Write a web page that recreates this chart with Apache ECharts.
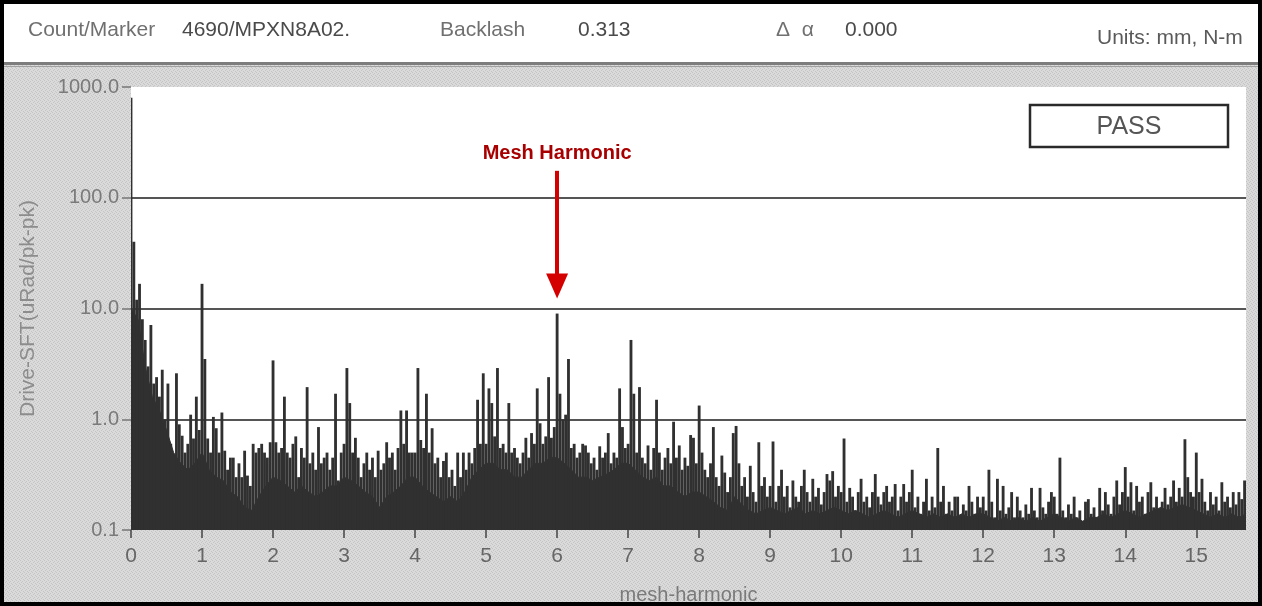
<!DOCTYPE html>
<html>
<head>
<meta charset="utf-8">
<title>Drive-SFT mesh-harmonic spectrum</title>
<script src="https://cdn.jsdelivr.net/npm/echarts@6/dist/echarts.min.js"></script>
<style>
  html, body { margin: 0; padding: 0; background: #d4d4d4; }
  #chart { width: 1262px; height: 606px; }
</style>
</head>
<body>
<div id="chart"></div>
<script>
// Spectrum bins: one amplitude (uRad pk-pk) every 0.04 mesh-harmonic, starting at 0.
const binWidth = 0.04;
const band00 = [800, 40, 12, 16.7, 8, 5.2, 3.0, 7.1, 2.1, 2.4, 1.6, 2.8, 1.0, 2.1, 0.6, 0.31, 2.6, 0.9, 0.71, 0.5, 0.6, 1.1, 0.67, 1.6, 0.8];
const band01 = [16.7, 3.5, 0.67, 0.5, 1.05, 0.83, 0.5, 1.15, 0.52, 0.35, 0.45, 0.45, 0.3, 0.4, 0.3, 0.52, 0.31, 0.25, 0.6, 0.5, 0.55, 0.6, 0.5, 0.45, 0.62];
const band02 = [3.4, 0.62, 0.5, 0.55, 1.6, 0.5, 0.45, 0.6, 0.7, 0.3, 0.55, 0.45, 1.95, 0.4, 0.5, 0.35, 0.85, 0.4, 0.45, 0.5, 0.35, 0.45, 1.7, 0.28, 0.5];
const band03 = [0.6, 2.9, 1.4, 0.5, 0.68, 0.45, 0.3, 0.4, 0.5, 0.35, 0.45, 0.3, 0.52, 0.35, 0.4, 0.62, 0.45, 0.5, 0.35, 0.55, 1.2, 0.6, 1.2, 0.5, 0.5];
const band04 = [0.5, 2.9, 0.65, 0.55, 1.7, 0.5, 0.83, 0.4, 0.45, 0.3, 0.42, 0.5, 0.3, 0.35, 0.25, 0.5, 0.3, 0.5, 0.35, 0.5, 0.4, 0.55, 1.5, 0.6, 2.6];
const band05 = [0.6, 1.9, 1.4, 0.7, 2.9, 0.55, 0.6, 0.5, 1.4, 0.5, 0.55, 0.45, 0.4, 0.5, 0.68, 0.45, 0.75, 0.6, 1.9, 0.92, 0.6, 0.7, 2.4, 0.68, 0.85];
const band06 = [9.0, 1.7, 1.0, 1.1, 3.5, 0.55, 0.6, 0.45, 0.5, 0.6, 0.58, 0.5, 0.4, 0.45, 0.35, 0.57, 0.45, 0.5, 0.75, 0.4, 0.5, 0.45, 1.9, 0.85, 0.55];
const band07 = [0.6, 5.2, 1.7, 0.5, 1.95, 0.45, 0.4, 0.58, 0.35, 0.55, 1.5, 0.5, 0.35, 0.45, 0.55, 0.4, 0.95, 0.45, 0.58, 0.35, 0.45, 0.38, 0.72, 0.68, 0.4];
const band08 = [1.33, 0.5, 0.35, 0.3, 0.4, 0.85, 0.3, 0.25, 0.47, 0.33, 0.22, 0.3, 0.75, 0.87, 0.4, 0.25, 0.3, 0.2, 0.38, 0.22, 0.18, 0.62, 0.25, 0.3, 0.2];
const band09 = [0.25, 0.63, 0.18, 0.25, 0.35, 0.2, 0.25, 0.16, 0.28, 0.2, 0.18, 0.25, 0.35, 0.22, 0.18, 0.29, 0.2, 0.24, 0.17, 0.22, 0.32, 0.28, 0.34, 0.2, 0.25];
const band10 = [0.22, 0.67, 0.18, 0.24, 0.2, 0.15, 0.22, 0.29, 0.18, 0.2, 0.16, 0.22, 0.32, 0.2, 0.17, 0.22, 0.25, 0.18, 0.2, 0.26, 0.15, 0.2, 0.26, 0.18, 0.22];
const band11 = [0.35, 0.16, 0.2, 0.14, 0.18, 0.29, 0.15, 0.2, 0.16, 0.55, 0.18, 0.25, 0.14, 0.18, 0.15, 0.2, 0.2, 0.13, 0.17, 0.15, 0.25, 0.18, 0.14, 0.2, 0.16];
const band12 = [0.2, 0.15, 0.35, 0.18, 0.13, 0.29, 0.15, 0.25, 0.14, 0.16, 0.22, 0.13, 0.2, 0.15, 0.13, 0.17, 0.14, 0.24, 0.15, 0.13, 0.24, 0.16, 0.14, 0.18, 0.22];
const band13 = [0.2, 0.14, 0.45, 0.15, 0.13, 0.17, 0.14, 0.2, 0.13, 0.15, 0.12, 0.18, 0.19, 0.14, 0.16, 0.13, 0.24, 0.15, 0.22, 0.17, 0.14, 0.2, 0.28, 0.17, 0.22];
const band14 = [0.37, 0.2, 0.27, 0.15, 0.25, 0.18, 0.2, 0.14, 0.22, 0.27, 0.16, 0.2, 0.15, 0.18, 0.24, 0.17, 0.2, 0.28, 0.18, 0.24, 0.2, 0.66, 0.3, 0.22, 0.2];
const band15 = [0.5, 0.22, 0.29, 0.18, 0.15, 0.22, 0.17, 0.2, 0.15, 0.27, 0.18, 0.2, 0.16, 0.22, 0.17, 0.22, 0.19, 0.28];

// Dense noise floor under the lines, one level every 0.1 mesh-harmonic
const floorStep = 0.1;
const floor00 = [10, 8, 3, 1.6, 1.2, 0.8, 0.5, 0.4, 0.35, 0.4];
const floor01 = [0.5, 0.35, 0.3, 0.28, 0.22, 0.2, 0.16, 0.15, 0.2, 0.25];
const floor02 = [0.3, 0.28, 0.25, 0.22, 0.25, 0.22, 0.2, 0.22, 0.25, 0.25];
const floor03 = [0.3, 0.28, 0.25, 0.22, 0.2, 0.16, 0.2, 0.22, 0.25, 0.3];
const floor04 = [0.3, 0.25, 0.22, 0.2, 0.18, 0.2, 0.18, 0.22, 0.3, 0.35];
const floor05 = [0.4, 0.4, 0.35, 0.35, 0.3, 0.3, 0.35, 0.4, 0.4, 0.45];
const floor06 = [0.45, 0.4, 0.35, 0.3, 0.3, 0.28, 0.3, 0.32, 0.35, 0.4];
const floor07 = [0.4, 0.35, 0.3, 0.28, 0.3, 0.25, 0.25, 0.22, 0.2, 0.22];
const floor08 = [0.22, 0.2, 0.18, 0.16, 0.15, 0.2, 0.17, 0.15, 0.14, 0.15];
const floor09 = [0.16, 0.15, 0.14, 0.15, 0.16, 0.14, 0.15, 0.14, 0.15, 0.16];
const floor10 = [0.15, 0.14, 0.15, 0.14, 0.13, 0.14, 0.15, 0.14, 0.13, 0.14];
const floor11 = [0.15, 0.14, 0.13, 0.14, 0.13, 0.14, 0.13, 0.14, 0.13, 0.14];
const floor12 = [0.14, 0.13, 0.12, 0.13, 0.12, 0.13, 0.12, 0.13, 0.12, 0.13];
const floor13 = [0.14, 0.13, 0.12, 0.13, 0.12, 0.13, 0.13, 0.14, 0.13, 0.14];
const floor14 = [0.15, 0.14, 0.13, 0.14, 0.15, 0.16, 0.15, 0.16, 0.17, 0.16];
const floor15 = [0.15, 0.14, 0.13, 0.14, 0.13, 0.14, 0.13, 0.14];

// Axis ticks and labels
const xTicks = [0, 1, 2, 3, 4, 5, 6, 7, 8, 9, 10, 11, 12, 13, 14, 15];
const xMax = 15.7;
const yTicks = [0.1, 1, 10, 100, 1000];
const yTickLabels = ['0.1', '1.0', '10.0', '100.0', '1000.0'];

// Header readout
const headerFields = ['Count/Marker', '4690/MPXN8A02.', 'Backlash', '0.313', 'Δ  α', '0.000', 'Units: mm, N-m'];
const verdict = 'PASS';

// Mesh harmonic call-out: arrow runs from 175 down to 16 at harmonic 6
const meshHarmonic = 6;
const calloutTop = 175;
const calloutTip = 16;

const amplitude = [].concat(band00, band01, band02, band03, band04, band05, band06, band07,
  band08, band09, band10, band11, band12, band13, band14, band15);
const spectrum = amplitude.map((a, i) => [+(i * binWidth).toFixed(2), a]);

const noiseFloor = [].concat(floor00, floor01, floor02, floor03, floor04, floor05, floor06, floor07,
  floor08, floor09, floor10, floor11, floor12, floor13, floor14, floor15)
  .map((a, i) => [+(i * floorStep).toFixed(1), a]);

const sans = "'Liberation Sans', Arial, sans-serif";
const inkDark = '#303030';

// fine dithered grey used by the instrument window
function ditherPattern() {
  const c = document.createElement('canvas');
  c.width = 4; c.height = 4;
  const ctx = c.getContext('2d');
  ctx.fillStyle = '#dadada';
  ctx.fillRect(0, 0, 4, 4);
  ctx.fillStyle = '#c4c4c4';
  ctx.fillRect(0, 0, 1, 1); ctx.fillRect(2, 1, 1, 1); ctx.fillRect(1, 2, 1, 1); ctx.fillRect(3, 3, 1, 1);
  return c;
}

const chart = echarts.init(document.getElementById('chart'), null, { renderer: 'canvas' });

const headerX = [28, 182, 440, 578, 776, 845, 1097];
const headerY = [30, 30, 30, 30, 30, 30, 38];
const headerInk = ['#707070', '#4a4a4a', '#707070', '#4a4a4a', '#707070', '#4a4a4a', '#5a5a5a'];

chart.setOption({
  animation: false,
  backgroundColor: { image: ditherPattern(), repeat: 'repeat' },
  grid: {
    left: 131, right: 16, top: 87, bottom: 76,
    outerBoundsMode: 'none', containLabel: false,
    show: true, backgroundColor: '#ffffff', borderWidth: 0
  },
  xAxis: {
    type: 'value', min: 0, max: xMax, interval: 1,
    name: 'mesh-harmonic', nameLocation: 'middle', nameGap: 55,
    nameTextStyle: { color: '#7a7a7a', fontSize: 20, fontFamily: sans },
    axisLine: { show: false },
    axisTick: { show: true, inside: false, length: 8, customValues: xTicks, lineStyle: { color: '#444', width: 1.5 } },
    axisLabel: { customValues: xTicks, color: '#666', fontSize: 21, fontFamily: sans, margin: 16 },
    splitLine: { show: false }
  },
  yAxis: {
    type: 'log', logBase: 10, min: 0.1, max: 1000,
    name: 'Drive-SFT(uRad/pk-pk)', nameLocation: 'middle', nameGap: 92,
    nameTextStyle: { color: '#8c8c8c', fontSize: 21, fontFamily: sans },
    axisLine: { show: false },
    axisTick: { show: true, inside: false, length: 9, lineStyle: { color: '#777', width: 1.5 } },
    axisLabel: {
      color: '#7a7a7a', fontSize: 20, fontFamily: sans, margin: 12,
      formatter: v => yTickLabels[Math.round(Math.log10(v)) + 1]
    },
    splitLine: { show: true, showMinLine: false, showMaxLine: false, lineStyle: { color: '#555', width: 2 } }
  },
  series: [{
    type: 'line',
    name: 'Noise floor',
    data: noiseFloor,
    showSymbol: false,
    silent: true,
    lineStyle: { color: inkDark, width: 1 },
    areaStyle: { color: inkDark, opacity: 1, origin: 'start' },
    z: 1
  }, {
    type: 'custom',
    name: 'Drive-SFT',
    clip: true,
    z: 2,
    data: spectrum,
    encode: { x: 0, y: 1 },
    renderItem: function (params, api) {
      const h = api.value(0);
      const a = api.value(1);
      const top = api.coord([h, a]);
      const base = api.coord([h, yTicks[0]]);
      const next = api.coord([h + binWidth, yTicks[0]]);
      const w = Math.max(1, next[0] - base[0]);
      return {
        type: 'rect',
        shape: { x: base[0] - w / 2, y: top[1], width: w, height: base[1] - top[1] },
        style: { fill: inkDark }
      };
    },
    markLine: {
      silent: true,
      animation: false,
      symbol: ['none', 'triangle'],
      lineStyle: { color: '#d40000', width: 4, type: 'solid' },
      label: {
        show: true, position: 'start', formatter: 'Mesh Harmonic', distance: 7,
        color: '#a80000', fontSize: 20, fontWeight: 'bold', fontFamily: sans
      },
      data: [[
        { coord: [meshHarmonic, calloutTop], symbol: 'none' },
        { coord: [meshHarmonic, calloutTip], symbol: 'triangle', symbolSize: [22, 25] }
      ]]
    }
  }],
  graphic: [
    { type: 'rect', z: 100, silent: true, shape: { x: 0, y: 0, width: 1262, height: 63 }, style: { fill: '#ffffff' } },
    { type: 'rect', z: 100, silent: true, shape: { x: 0, y: 62, width: 1262, height: 3 }, style: { fill: '#7d7d7d' } },
    { type: 'rect', z: 100, silent: true, shape: { x: 0, y: 66, width: 1262, height: 1 }, style: { fill: '#a0a0a0' } },
    { type: 'rect', z: 110, silent: true, shape: { x: 2, y: 2, width: 1258, height: 602 }, style: { fill: 'none', stroke: '#000', lineWidth: 4 } },
    ...headerFields.map((t, i) => ({
      type: 'text', z: 105, silent: true,
      x: headerX[i], y: headerY[i],
      style: { text: t, fill: headerInk[i], font: '21px ' + sans, textVerticalAlign: 'middle' }
    })),
    { type: 'rect', z: 105, silent: true, shape: { x: 1030, y: 105, width: 198, height: 42 }, style: { fill: '#ffffff', stroke: '#2a2a2a', lineWidth: 2.5 } },
    { type: 'text', z: 106, silent: true, x: 1129, y: 127, style: { text: verdict, fill: '#555', font: '25px ' + sans, textAlign: 'center', textVerticalAlign: 'middle' } }
  ]
});
</script>
</body>
</html>
